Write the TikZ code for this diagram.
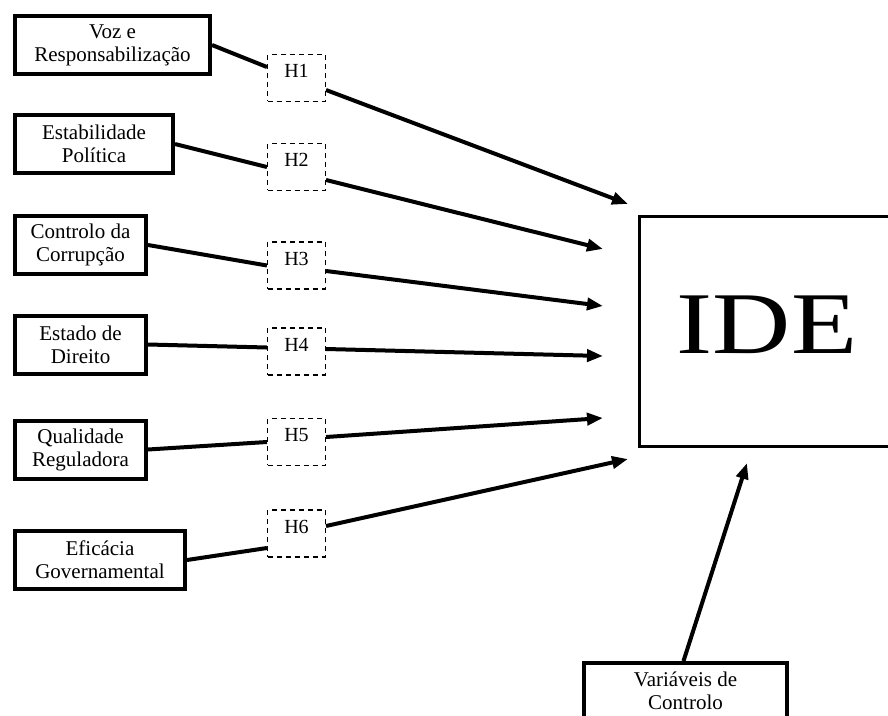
\documentclass[tikz,border=0pt]{standalone}
\usepackage{fontspec}
\setmainfont{Liberation Serif}
\usetikzlibrary{arrows.meta}

\begin{document}
\begin{tikzpicture}[x=1pt,y=-1pt,
      var/.style={draw,line width=4pt,align=center,inner sep=0pt,minimum height=58pt,
        font=\fontsize{21}{23}\selectfont},
      hyp/.style={draw,line width=1.5pt,dash pattern=on 5pt off 4pt,inner sep=0pt,
        minimum width=57.6pt,text height=23pt,text depth=23.6pt,font=\fontsize{20}{22}\selectfont},
      link/.style={line width=4pt},
      effect/.style={line width=4pt,-{Triangle[length=16pt,width=12pt]}}]
      \useasboundingbox (0,0) rectangle (888,715);
      \clip (0,0) rectangle (888,715);
      \node[var,minimum width=195pt] (voz) at (112.5,45) {Voz e\\Responsabilização};
      \node[var,minimum width=158pt] (est) at (94,144) {Estabilidade\\Política};
      \node[var,minimum width=131pt] (cor) at (80.5,245) {Controlo da\\Corrupção};
      \node[var,minimum width=131pt] (dir) at (80.5,344.5) {Estado de\\Direito};
      \node[var,minimum width=131pt] (reg) at (80.5,449.5) {Qualidade\\Reguladora};
      \node[var,minimum width=170pt] (gov) at (100,560) {Eficácia\\Governamental};
      \node[hyp] (h1) at (296.5,78) {H1};
      \node[hyp] (h2) at (296.5,167) {H2};
      \node[hyp] (h3) at (296.5,265.5) {H3};
      \node[hyp] (h4) at (296.5,351.5) {H4};
      \node[hyp] (h5) at (296.5,442) {H5};
      \node[hyp] (h6) at (296.5,533.5) {H6};
      \node[draw,line width=3pt,inner sep=0pt,minimum width=255pt,minimum height=230pt,
        text height=58pt,text depth=15pt,font=\fontsize{88}{90}\selectfont]
        (ide) at (767,331.5) {\scalebox{1.23}[1]{IDE}};
      \node[var,minimum width=203pt,minimum height=60pt,text depth=4pt] (ctrl) at (685.5,693) {Variáveis de\\Controlo};
      \coordinate (t1) at (628,204);
      \coordinate (t2) at (603,249);
      \coordinate (t3) at (603,306);
      \coordinate (t4) at (603,356);
      \coordinate (t5) at (603,418);
      \coordinate (t6) at (628,459);
      \coordinate (t7) at (747,463);
      \draw[link] (voz.east) -- ([yshift=11pt]h1.west);
      \draw[link] (est.east) -- (h2.west);
      \draw[link] (cor.east) -- (h3.west);
      \draw[link] (dir.east) -- ([yshift=4pt]h4.west);
      \draw[link] (reg.east) -- (h5.west);
      \draw[link] (gov.east) -- ([yshift=-14.5pt]h6.west);
      \draw[effect] ([yshift=-12pt]h1.east) -- (t1);
      \draw[effect] ([yshift=-13pt]h2.east) -- (t2);
      \draw[effect] ([yshift=-5.5pt]h3.east) -- (t3);
      \draw[effect] ([yshift=2.5pt]h4.east) -- (t4);
      \draw[effect] ([yshift=5pt]h5.east) -- (t5);
      \draw[effect] ([yshift=7.5pt]h6.east) -- (t6);
      \draw[effect] ([xshift=-2pt]ctrl.north) -- (t7);
    \end{tikzpicture}
\end{document}
